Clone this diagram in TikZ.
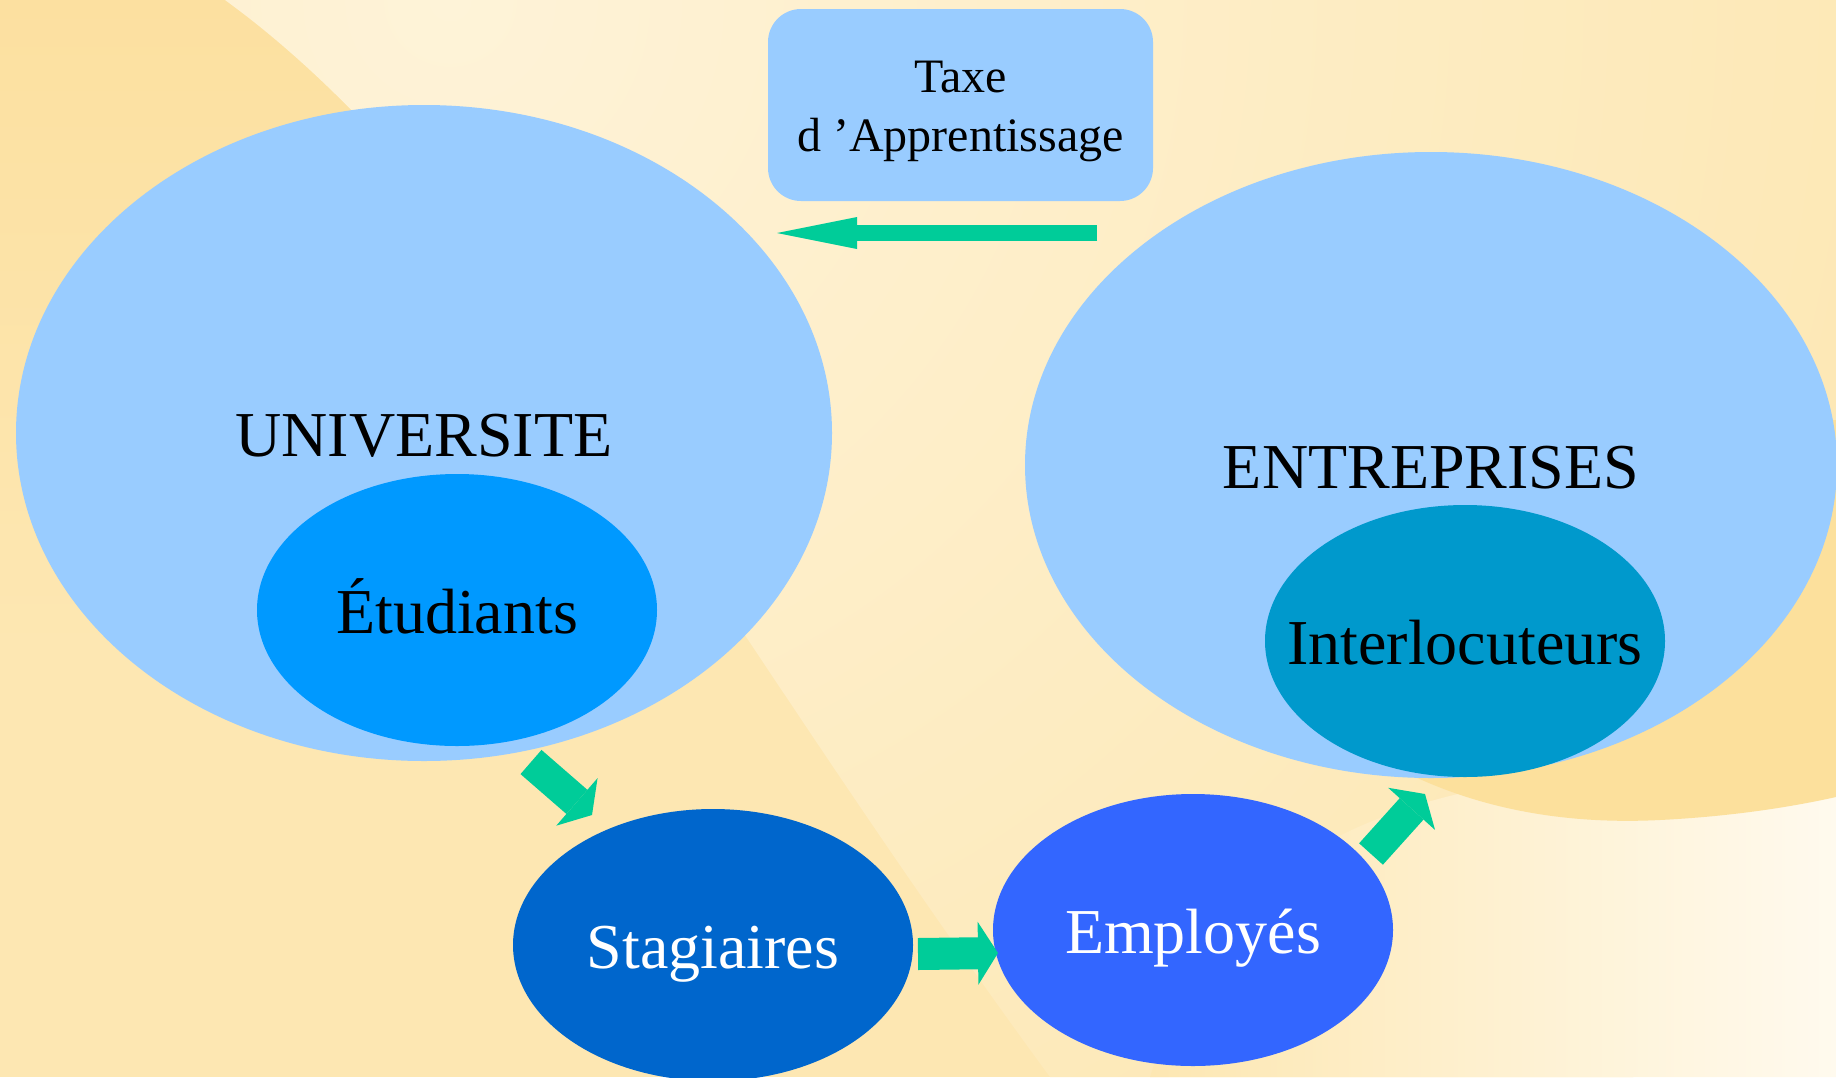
\documentclass[tikz,border=0pt]{standalone}
\usepackage{fontspec}
\setmainfont{Liberation Serif}
\usetikzlibrary{shapes.geometric,arrows.meta}
\definecolor{bgtop}{HTML}{FCE0A0}
\definecolor{bgbot}{HTML}{FDE7B2}
\definecolor{bglight}{HTML}{FEF3D8}
\definecolor{bgblob}{HTML}{FCE09C}
\definecolor{bgpale}{HTML}{FFFAEE}
\definecolor{outer}{HTML}{99CCFF}
\definecolor{etudcol}{HTML}{0099FF}
\definecolor{intercol}{HTML}{0099CC}
\definecolor{stagcol}{HTML}{0066CC}
\definecolor{emplcol}{HTML}{3366FF}
\definecolor{flowcol}{HTML}{00CC99}
\begin{document}
\begin{tikzpicture}[x=1pt, y=-1pt,
        blob/.style = {ellipse, inner sep=0pt, inner xsep=-60pt, outer sep=0pt,
            text height=46pt, text depth=0pt, font=\fontsize{64}{77}\selectfont},
        big/.style = {blob, fill=outer, minimum width=816pt, minimum height=656pt},
        small/.style = {blob, minimum width=400pt, minimum height=272pt},
        taxebox/.style = {rectangle, rounded corners=33pt, fill=outer, inner sep=0pt,
            outer sep=0pt, minimum width=385pt, minimum height=192pt},
        flow/.style = {draw=flowcol, line width=32pt,
            -{Triangle[length=20pt, width=63pt, line width=0pt]}},
        flowthin/.style = {draw=flowcol, line width=16pt,
            -{Triangle[length=80pt, width=32pt, line width=0pt]}}
    ]
        \useasboundingbox (0,0) rectangle (1836,1077);
        % background
        \fill[bgbot] (0,0) rectangle (1836,1077);
        \shade[top color=bgtop, bottom color=bgbot] (0,0) rectangle (1836,650);
        \begin{scope}
            \clip (225,0) -- (1836,0) -- (1836,1077) -- (1050,1077)
                .. controls (700,600) and (500,200) .. cycle;
            \shade[inner color=bglight, outer color=bgbot] (450,0) circle (1600);
        \end{scope}
        \shade[left color=bgbot, right color=bgpale] (1150,1077) .. controls (1220,860) and (1350,760)
            .. (1836,760) -- (1836,1077) -- cycle;
        \fill[bgblob] (1300,700) .. controls (1350,500) and (1700,420) .. (1836,420) -- (1836,797)
            .. controls (1800,805) and (1740,816) .. (1660,820)
            .. controls (1560,825) and (1420,810) .. cycle;

        % groups
        \node[big] (univ) at (424,433) {UNIVERSITE};
        \node[big, minimum width=812pt, minimum height=626pt] (entr) at (1431,465) {ENTREPRISES};
        \node[small, fill=etudcol] (etud) at (457,610) {Étudiants};
        \node[small, fill=intercol] (inter) at (1465,641) {Interlocuteurs};
        \node[small, fill=stagcol, text=white] (stag) at (713,945) {Stagiaires};
        \node[small, fill=emplcol, text=white] (empl) at (1193,930) {Employés};
        \node[taxebox] (taxe) at (960.5,105) {};
        \node[align=center, font=\fontsize{48}{59}\selectfont] (taxetxt)
            at ([yshift=-6.8pt]taxe.center) {Taxe\\d ’Apprentissage};

        % flows
        \draw[flowthin] ([shift={(-56,32)}]taxe.south east) -- ([shift={(9,32)}]taxe.south west);
        \draw[flow] ([shift={(107,1)}]univ.south) -- ([shift={(-121,6)}]stag.north);
        \draw[flow] ([shift={(5,9)}]stag.east) -- ([shift={(5,23)}]empl.west);
        \draw[flow] ([shift={(178,60)}]empl.north) -- ([shift={(-40,17)}]inter.south);
\end{tikzpicture}
\end{document}
